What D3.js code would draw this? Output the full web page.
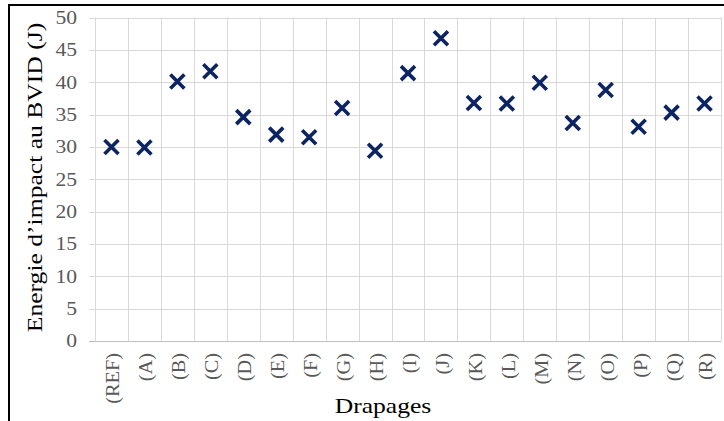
<!DOCTYPE html>
<html>
<head>
<meta charset="utf-8">
<script src="https://cdnjs.cloudflare.com/ajax/libs/d3/7.8.5/d3.min.js"></script>
<style>
  html, body { margin: 0; padding: 0; background: #fff; }
  svg { display: block; }
</style>
</head>
<body>
<svg id="chart" width="724" height="421"></svg>
<script>
const categories = ["(REF)","(A)","(B)","(C)","(D)","(E)","(F)","(G)","(H)","(I)","(J)","(K)","(L)","(M)","(N)","(O)","(P)","(Q)","(R)"];
const values = [30.0, 29.9, 40.1, 41.7, 34.6, 31.9, 31.5, 36.0, 29.4, 41.4, 46.8, 36.8, 36.7, 39.9, 33.7, 38.8, 33.1, 35.3, 36.7];
const yTicks = [0, 5, 10, 15, 20, 25, 30, 35, 40, 45, 50];
const yTitle = "Energie d\u2019impact au BVID (J)";
const xTitle = "Drapages";

(function () {
const svg = d3.select("#chart");
const W = 724, H = 421;
const pLeft = 95, pRight = 721, pTop = 17.5, pBottom = 341;

svg.append("rect").attr("width", W).attr("height", H).attr("fill", "#fff");

// outer frame (cut off at right and bottom)
svg.append("rect")
  .attr("x", 9).attr("y", 5).attr("width", 900).attr("height", 600)
  .attr("fill", "none").attr("stroke", "#000").attr("stroke-width", 2);

const x = d3.scaleBand().domain(categories).range([pLeft, pRight]).padding(0);
const y = d3.scaleLinear().domain([0, 50]).range([pBottom, pTop]);

const grid = svg.append("g");
grid.selectAll("line.h").data(yTicks.filter(d => d !== 0)).join("line")
  .attr("x1", pLeft - 6).attr("x2", pRight)
  .attr("y1", d => Math.round(y(d)) + 0.5).attr("y2", d => Math.round(y(d)) + 0.5)
  .attr("stroke", "#d9d9d9").attr("stroke-width", 1);
const bounds = categories.map(c => x(c)).concat([x.range()[1]]);
grid.selectAll("line.v").data(bounds).join("line")
  .attr("x1", d => Math.round(d) + 0.5).attr("x2", d => Math.round(d) + 0.5)
  .attr("y1", pTop).attr("y2", pBottom)
  .attr("stroke", "#d9d9d9").attr("stroke-width", 1);
svg.append("line")
  .attr("x1", pLeft - 6).attr("x2", pRight)
  .attr("y1", Math.round(pBottom) + 0.5).attr("y2", Math.round(pBottom) + 0.5)
  .attr("stroke", "#bfbfbf").attr("stroke-width", 1);

const yAxis = svg.append("g").attr("transform", `translate(${pLeft},0)`)
  .call(d3.axisLeft(y).tickValues(yTicks).tickSize(0).tickFormat(d3.format("d")));
yAxis.select(".domain").remove();
yAxis.selectAll("text")
  .attr("x", null).attr("dy", "0.33em")
  .attr("transform", "translate(-18,0) scale(1.2,1)")
  .attr("text-anchor", "end")
  .style("font-family", "'Liberation Serif', 'Times New Roman', serif")
  .style("font-size", "18px")
  .attr("fill", "#595959");

const xAxis = svg.append("g").attr("transform", `translate(0,${pBottom})`)
  .call(d3.axisBottom(x).tickSize(0));
xAxis.select(".domain").remove();
xAxis.selectAll("text")
  .attr("y", null).attr("dy", "0.33em")
  .attr("transform", "translate(2,12) rotate(-90) scale(1.13,1)")
  .attr("text-anchor", "end")
  .style("font-family", "'Liberation Serif', 'Times New Roman', serif")
  .style("font-size", "18px")
  .attr("fill", "#595959");

const s = 7;
svg.append("g").selectAll("path").data(values).join("path")
  .attr("d", (d, i) => {
    const cx = x(categories[i]) + x.bandwidth() / 2;
    const cy = y(d);
    return `M${cx - s},${cy - s}L${cx + s},${cy + s}M${cx - s},${cy + s}L${cx + s},${cy - s}`;
  })
  .attr("stroke", "#0c2461").attr("stroke-width", 3.6).attr("fill", "none");

svg.append("text")
  .attr("transform", "translate(42,177.5) rotate(-90) scale(1.22,1)")
  .attr("text-anchor", "middle")
  .style("font-family", "'Liberation Serif', 'Times New Roman', serif")
  .style("font-size", "21px")
  .attr("fill", "#000")
  .text(yTitle);

svg.append("text")
  .attr("transform", "translate(383,413) scale(1.22,1)")
  .attr("text-anchor", "middle")
  .style("font-family", "'Liberation Serif', 'Times New Roman', serif")
  .style("font-size", "21px")
  .attr("fill", "#000")
  .text(xTitle);
})();
</script>
</body>
</html>
